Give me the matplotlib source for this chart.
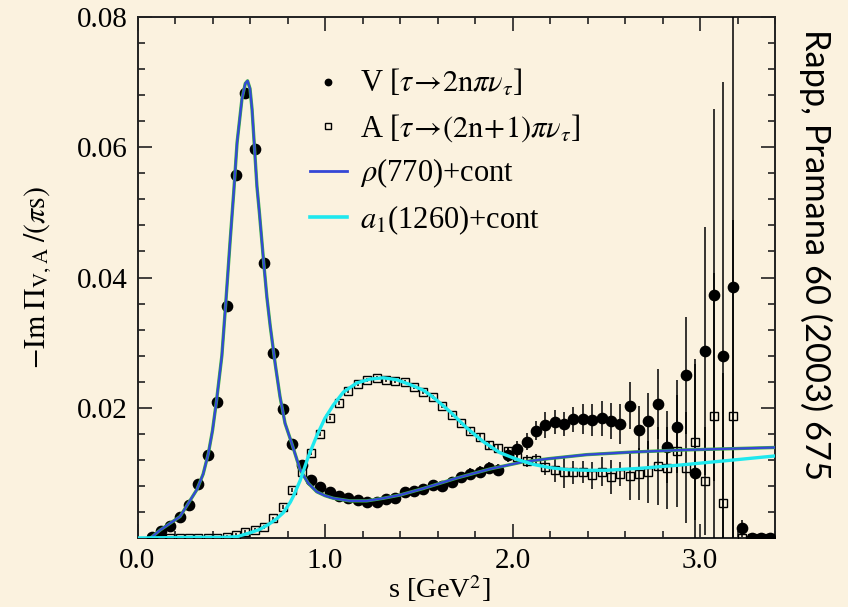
import matplotlib
matplotlib.use("Agg")
import matplotlib.pyplot as plt
from matplotlib.lines import Line2D
from matplotlib.ticker import FixedLocator, MultipleLocator, FixedFormatter

plt.rcParams['font.family'] = ['Liberation Serif', 'DejaVu Serif']
plt.rcParams['mathtext.fontset'] = 'stix'

# ---------------- data ----------------
s_bins = [round(0.075 + 0.05 * k, 3) for k in range(67)]

V_vals = [0.0001, 0.0010, 0.0018, 0.0032, 0.0050, 0.0083, 0.0127, 0.0209, 0.0357, 0.0557,
          0.0684, 0.0597, 0.0423, 0.0284, 0.0198, 0.0145, 0.0112, 0.0089, 0.0078, 0.0070,
          0.0065, 0.0061, 0.0058, 0.0055, 0.0056, 0.0060, 0.0062, 0.0070, 0.0072, 0.0076,
          0.0082, 0.0080, 0.0086, 0.0093, 0.0098, 0.0101, 0.0107, 0.0104, 0.0128, 0.0137,
          0.0148, 0.0165, 0.0173, 0.0178, 0.0175, 0.0182, 0.0183, 0.0181, 0.0184, 0.0180,
          0.0175, 0.0203, 0.0166, 0.0179, 0.0206, 0.0140, 0.0171, 0.0250, 0.0100, 0.0287,
          0.0373, 0.0280, 0.0385, 0.0015, 0.0000, 0.0000, 0.0000]

V_errs = [0.0003] * 10 + [0.0006] * 4 + [0.0004] * 12 + [0.0006] * 8 + \
         [0.0009, 0.0009, 0.0009, 0.0009, 0.0011, 0.0012, 0.0013, 0.0014,
          0.0020, 0.0018, 0.0018, 0.0019, 0.0023, 0.0024, 0.0027, 0.0028, 0.0030,
          0.0036, 0.0037, 0.0043, 0.0054, 0.0055, 0.0071, 0.0090, 0.0175, 0.0190,
          0.0285, 0.0420, 0.0500, 0.0013, 0.0, 0.0, 0.0]

A_vals = [0.0000, 0.0000, 0.0000, 0.0000, 0.0000, 0.0000, 0.0000, 0.0000, 0.0002, 0.0005,
          0.0009, 0.0012, 0.0017, 0.0030, 0.0048, 0.0074, 0.0102, 0.0131, 0.0160, 0.0184,
          0.0207, 0.0225, 0.0236, 0.0243, 0.0246, 0.0243, 0.0241, 0.0239, 0.0232, 0.0224,
          0.0216, 0.0202, 0.0189, 0.0177, 0.0165, 0.0155, 0.0143, 0.0138, 0.0133, 0.0125,
          0.0118, 0.0120, 0.0109, 0.0105, 0.0101, 0.0101, 0.0101, 0.0096, 0.0102, 0.0094,
          0.0098, 0.0095, 0.0098, 0.0101, 0.0111, 0.0108, 0.0134, 0.0108, 0.0147, 0.0088,
          0.0187, 0.0053, 0.0188, 0.0000, 0.0000, 0.0000, 0.0000]

A_errs = [0.0003] * 34 + [0.0006] * 5 + [0.0009] * 3 + \
         [0.0013, 0.0019, 0.0024, 0.0018, 0.0017, 0.0020, 0.0022, 0.0026, 0.0018,
          0.0036, 0.0040, 0.0048, 0.0060, 0.0063, 0.0086, 0.0085, 0.0120, 0.0083,
          0.0220, 0.0200, 0.0300, 0.0, 0.0, 0.0, 0.0]

rho_s = [0.07, 0.12, 0.227, 0.316, 0.35, 0.378, 0.40, 0.422, 0.45, 0.472, 0.495, 0.513,
         0.531, 0.557, 0.575, 0.587, 0.600, 0.611, 0.637, 0.65, 0.673, 0.69, 0.708, 0.735,
         0.76, 0.787, 0.822, 0.867, 0.911, 0.956, 1.0, 1.044, 1.133, 1.222, 1.311, 1.4,
         1.524, 1.702, 1.88, 2.058, 2.2, 2.396, 2.644, 2.893, 3.15, 3.4]
rho_v = [0.0, 0.0012, 0.0033, 0.0074, 0.0098, 0.0130, 0.0165, 0.0212, 0.0280, 0.0366,
         0.0460, 0.0530, 0.0607, 0.0674, 0.0698, 0.0702, 0.0690, 0.0658, 0.0540, 0.0500,
         0.0423, 0.0370, 0.0325, 0.0266, 0.0217, 0.0176, 0.0146, 0.0105, 0.0084, 0.0071,
         0.0065, 0.0061, 0.0057, 0.0057, 0.0061, 0.0066, 0.0076, 0.0092, 0.0106, 0.0117,
         0.0122, 0.0128, 0.0132, 0.0135, 0.0137, 0.0139]

a1_s = [0.0, 0.3, 0.45, 0.53, 0.6, 0.65, 0.7, 0.744, 0.778, 0.815, 0.831, 0.867, 0.911,
        0.956, 1.0, 1.044, 1.098, 1.169, 1.24, 1.311, 1.382, 1.45, 1.524, 1.578, 1.667,
        1.756, 1.844, 1.933, 2.022, 2.111, 2.2, 2.289, 2.396, 2.502, 2.68, 2.893, 3.15, 3.4]
a1_v = [0.0, 0.0001, 0.0001, 0.0002, 0.0008, 0.0013, 0.0021, 0.0030, 0.0039, 0.0055,
        0.0064, 0.0088, 0.0125, 0.0157, 0.0184, 0.0204, 0.0224, 0.0238, 0.0244, 0.0246,
        0.0243, 0.0236, 0.0227, 0.0216, 0.0194, 0.0169, 0.0148, 0.0131, 0.0121, 0.0113,
        0.0108, 0.0105, 0.0104, 0.0104, 0.0107, 0.0112, 0.0119, 0.0126]

x_ticks = [0.0, 1.0, 2.0, 3.0]
x_ticklabels = ["0.0", "1.0", "2.0", "3.0"]
y_ticks = [0.0, 0.02, 0.04, 0.06, 0.08]
y_ticklabels = ["", "0.02", "0.04", "0.06", "0.08"]

label_V = r"V [$\tau\!\rightarrow\!2\mathrm{n}\pi\nu_\tau$]"
label_A = r"A [$\tau\!\rightarrow\!(2\mathrm{n}\!+\!1)\pi\nu_\tau$]"
label_rho = r"$\rho$(770)+cont"
label_a1 = r"$a_1$(1260)+cont"

# ---------------- figure ----------------
bg = "#FBF2DF"
W, H = 848, 607
fig = plt.figure(figsize=(8.48, 6.07), dpi=100, facecolor=bg)
ax = fig.add_axes([137.5 / W, 1 - 538 / H, (775 - 137.5) / W, (538 - 17) / H])
ax.set_facecolor(bg)

rho_col = '#3447D6'
a1_col = '#1EE8EE'

ax.errorbar(s_bins, V_vals, yerr=V_errs, fmt='o', color='black', ms=7.4,
            elinewidth=1.1, capsize=0, zorder=3)
ax.errorbar(s_bins, A_vals, yerr=A_errs, fmt='s', mfc='none', mec='black', mew=1.0,
            ecolor='black', ms=5.6, elinewidth=1.1, capsize=0, zorder=3)

ax.plot(rho_s, rho_v, color='#3CB043', lw=2.4, zorder=4)
ax.plot(rho_s, rho_v, color=rho_col, lw=1.6, zorder=5)
ax.plot(a1_s, a1_v, color=a1_col, lw=2.4, zorder=5)

ax.set_xlim(0, 3.4)
ax.set_ylim(0, 0.08)

ax.xaxis.set_major_locator(FixedLocator(x_ticks))
ax.xaxis.set_major_formatter(FixedFormatter(x_ticklabels))
ax.xaxis.set_minor_locator(MultipleLocator(0.2))
ax.yaxis.set_major_locator(FixedLocator(y_ticks))
ax.yaxis.set_major_formatter(FixedFormatter(y_ticklabels))
ax.yaxis.set_minor_locator(MultipleLocator(0.004))

ax.tick_params(which='both', direction='in', top=True, right=True, color='#222222',
               width=1.2, labelsize=21, pad=7)
ax.tick_params(which='major', length=10)
ax.tick_params(which='minor', length=5)
for sp in ax.spines.values():
    sp.set_linewidth(1.4)
    sp.set_color('#222222')

ax.set_xlabel(r"s [GeV$^2$]", fontsize=20.5)
ax.xaxis.set_label_coords((439 - 137.5) / 637.5, -0.068)
ax.set_ylabel(r"$-\mathrm{Im}\;\Pi_{\mathrm{V,A}}\;/(\pi \mathrm{s})$", fontsize=21.5)
ax.yaxis.set_label_coords((54 - 137.5) / 637.5, 0.5)

handles = [
    Line2D([], [], ls='none', marker='o', color='black', ms=4.6),
    Line2D([], [], ls='none', marker='s', mfc='none', mec='black', mew=1.0, ms=4.2),
    Line2D([], [], color=rho_col, lw=2.0),
    Line2D([], [], color=a1_col, lw=2.6),
]
labels = [label_V, label_A, label_rho, label_a1]
leg = ax.legend(handles, labels, loc='upper left',
                bbox_to_anchor=(310 / W, 1 - 68 / H), bbox_transform=fig.transFigure,
                frameon=False, fontsize=22, handlelength=1.2,
                handletextpad=0.45, labelspacing=0.42, borderaxespad=0, borderpad=0)

fig.text(0.962, 0.58, "Rapp, Pramana 60 (2003) 675", rotation=-90, ha='center', va='center',
         fontsize=24.8, family=['Lato', 'DejaVu Sans'], color='black')

fig.savefig("out.png", dpi=100, facecolor=bg)
